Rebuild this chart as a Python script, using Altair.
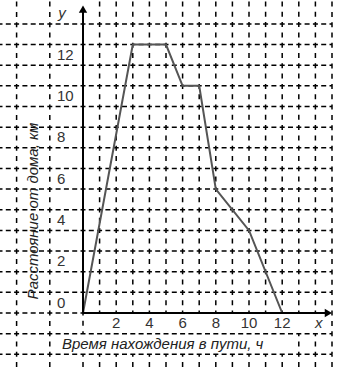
import altair as alt
import pandas as pd

# ---- data (grid units) ----
time_h = [0, 3, 5, 6, 7, 8, 10, 12]
dist_km = [0, 13, 13, 11, 11, 6, 4, 0]

x_tick_values = [2, 4, 6, 8, 10, 12]
y_tick_values = [0, 2, 4, 6, 8, 10, 12]

x_title = "Время нахождения в пути, ч"
y_title = "Расстояние от дома, км"

# ---- scales (whole picture is the plot area) ----
X0, SX = 83, 16.6
Y0, SY = 313, 20.65
W, H = 340, 369
xdom = [-X0 / SX, (W - X0) / SX]
ydom = [(Y0 - H) / SY, Y0 / SY]
xs = alt.Scale(domain=xdom, nice=False, zero=False)
ys = alt.Scale(domain=ydom, nice=False, zero=False)
XMIN, XMAX = xdom
YMIN, YMAX = ydom

# horizontal grid rows
rows = list(range(-2, 15))
hseg = []
for r in rows:
    if r == 0:
        hseg.append({"x": XMIN, "x2": 0, "y": r})
    else:
        hseg.append({"x": XMIN, "x2": 15, "y": r})
hdf = pd.DataFrame(hseg)

# vertical grid segments (column, start row, end)
vseg = []
for c in [-4, -2, 15]:
    vseg.append({"x": c, "y": -2, "y2": YMAX})
    vseg.append({"x": c, "y": -2, "y2": YMIN})
for c in range(1, 15):
    vseg.append({"x": c, "y": 0, "y2": YMAX})
    vseg.append({"x": c, "y": -2, "y2": YMIN})
for c in [13, 14]:
    vseg.append({"x": c, "y": -2, "y2": -1})
vseg.append({"x": 0, "y": -2, "y2": YMIN})
vseg.append({"x": 0, "y": -1, "y2": 0})
vdf = pd.DataFrame(vseg)

hgrid = alt.Chart(hdf).mark_rule(
    color="black", strokeWidth=1.5, strokeDash=[5, 3.3], strokeDashOffset=2.5
).encode(
    x=alt.X("x:Q", scale=xs, axis=None),
    x2="x2:Q",
    y=alt.Y("y:Q", scale=ys, axis=None),
)

vgrid = alt.Chart(vdf).mark_rule(
    color="black", strokeWidth=1.5, strokeDash=[5, 5.3], strokeDashOffset=2.5
).encode(
    x=alt.X("x:Q", scale=xs, axis=None),
    y=alt.Y("y:Q", scale=ys, axis=None),
    y2="y2:Q",
)

axes_df = pd.DataFrame([
    {"x": 0, "x2": 14.7, "y": 0, "y2": 0},
    {"x": 0, "x2": 0, "y": 0, "y2": 14.6},
])
axes = alt.Chart(axes_df).mark_rule(color="black", strokeWidth=2).encode(
    x=alt.X("x:Q", scale=xs, axis=None), x2="x2:Q",
    y=alt.Y("y:Q", scale=ys, axis=None), y2="y2:Q",
)

arrow_up = alt.Chart(pd.DataFrame({"x": [0], "y": [14.72]})).mark_point(
    shape="triangle-up", filled=True, color="black", size=70, opacity=1
).encode(x=alt.X("x:Q", scale=xs, axis=None), y=alt.Y("y:Q", scale=ys, axis=None))

arrow_right = alt.Chart(pd.DataFrame({"x": [14.78], "y": [0]})).mark_point(
    shape="triangle-right", filled=True, color="black", size=70, opacity=1
).encode(x=alt.X("x:Q", scale=xs, axis=None), y=alt.Y("y:Q", scale=ys, axis=None))

line = alt.Chart(pd.DataFrame({"t": time_h, "d": dist_km})).mark_line(
    color="#555555", strokeWidth=2
).encode(
    x=alt.X("t:Q", scale=xs, axis=None),
    y=alt.Y("d:Q", scale=ys, axis=None),
)

ylab = alt.Chart(pd.DataFrame({"v": y_tick_values, "s": [str(v) for v in y_tick_values]})).transform_calculate(
    pos="datum.v + 0.5", u="-1.57"
).mark_text(align="left", baseline="middle", font="Liberation Sans", fontSize=15, color="#333333").encode(
    x=alt.X("u:Q", scale=xs, axis=None),
    y=alt.Y("pos:Q", scale=ys, axis=None),
    text="s:N",
)

xlab = alt.Chart(pd.DataFrame({"v": x_tick_values, "s": [str(v) for v in x_tick_values]})).transform_calculate(
    pos="-0.5"
).mark_text(align="center", baseline="middle", font="Liberation Sans", fontSize=15, color="#333333").encode(
    x=alt.X("v:Q", scale=xs, axis=None),
    y=alt.Y("pos:Q", scale=ys, axis=None),
    text="s:N",
)

letters = alt.Chart(pd.DataFrame({"x": [14.2, -1.27], "y": [-0.5, 14.55], "s": ["x", "y"]})).mark_text(
    align="center", baseline="middle", font="Liberation Sans", fontSize=15, fontStyle="italic", color="#333333"
).encode(
    x=alt.X("x:Q", scale=xs, axis=None),
    y=alt.Y("y:Q", scale=ys, axis=None),
    text="s:N",
)

xt = alt.Chart(pd.DataFrame({"x": [4.8], "y": [-1.5], "s": [x_title]})).mark_text(
    align="center", baseline="middle", font="Liberation Sans", fontSize=15, fontStyle="italic", color="#222222"
).encode(
    x=alt.X("x:Q", scale=xs, axis=None),
    y=alt.Y("y:Q", scale=ys, axis=None),
    text="s:N",
)

yt = alt.Chart(pd.DataFrame({"x": [-3.0], "y": [4.94], "s": [y_title]})).mark_text(
    align="center", baseline="middle", angle=270, font="Liberation Sans", fontSize=15, fontStyle="italic", color="#222222"
).encode(
    x=alt.X("x:Q", scale=xs, axis=None),
    y=alt.Y("y:Q", scale=ys, axis=None),
    text="s:N",
)

chart = alt.layer(hgrid, vgrid, line, axes, arrow_up, arrow_right, ylab, xlab, letters, xt, yt).properties(
    width=W, height=H, padding=0, autosize=alt.AutoSizeParams(type="none"), background="white"
).configure_view(stroke=None)

chart.save("out.html", embed_options={"renderer": "svg", "actions": False})
